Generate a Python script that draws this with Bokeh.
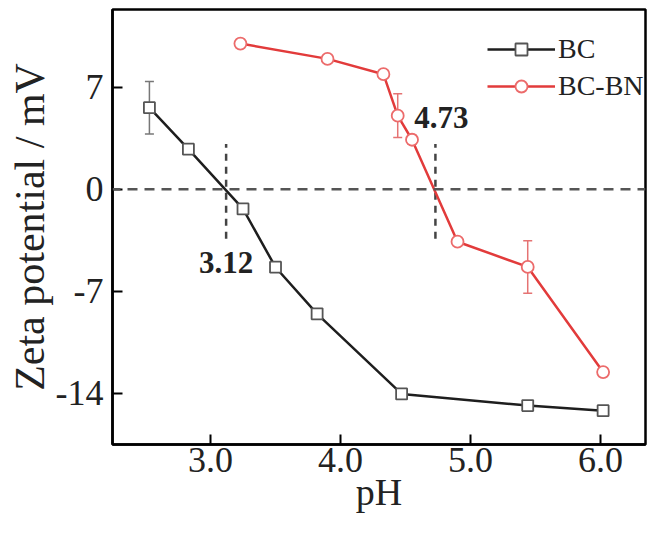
from bokeh.plotting import figure
from bokeh.models import (ColumnDataSource, Range1d, FixedTicker, Span, Whisker,
                          TeeHead, Label, Legend, LegendItem)
from bokeh.embed import file_html
from bokeh.resources import INLINE

# ---- data ----
bc_ph = [2.53, 2.83, 3.25, 3.50, 3.82, 4.47, 5.44, 6.02]
bc_zeta = [5.6, 2.75, -1.35, -5.35, -8.55, -14.05, -14.85, -15.2]
bc_err = [1.8, 0.3, 0.0, 0.3, 0.3, 0.0, 0.0, 0.3]

bn_ph = [3.23, 3.90, 4.33, 4.44, 4.55, 4.90, 5.44, 6.02]
bn_zeta = [10.0, 8.95, 7.9, 5.05, 3.4, -3.6, -5.33, -12.55]
bn_err = [0.3, 0.0, 0.0, 1.5, 0.3, 0.0, 1.8, 0.3]

iep_ph = [3.12, 4.73]
iep_labels = ["3.12", "4.73"]

x_ticks = [3.0, 4.0, 5.0, 6.0]
x_tick_labels = ["3.0", "4.0", "5.0", "6.0"]
y_ticks = [-14, -7, 0, 7]
y_tick_labels = ["-14", "-7", "0", "7"]

FONT = "Liberation Serif"
BC_LINE = "#1e1e1e"
BC_MARK = "#555555"
BN_LINE = "#e23b3b"
BN_MARK = "#ec6b6b"

p = figure(width=647, height=517, output_backend="svg", toolbar_location=None,
           x_range=Range1d(2.246, 6.346), y_range=Range1d(-17.52, 12.34),
           min_border_left=112, min_border_right=2, min_border_top=9,
           min_border_bottom=73)
p.background_fill_color = "white"
p.border_fill_color = "white"
p.xgrid.visible = False
p.ygrid.visible = False
p.outline_line_color = "black"
p.outline_line_width = 2.5

for ax in (p.xaxis[0], p.yaxis[0]):
    ax.axis_line_width = 2.5
    ax.axis_line_color = "black"
    ax.major_tick_in = 10
    ax.major_tick_out = 0
    ax.major_tick_line_width = 2
    ax.major_tick_line_color = "black"
    ax.minor_tick_line_color = None
    ax.major_label_text_font = FONT
    ax.major_label_text_color = "#222222"
    ax.axis_label_text_font = FONT
    ax.axis_label_text_font_style = "normal"
    ax.axis_label_text_color = "#222222"

p.xaxis.ticker = FixedTicker(ticks=x_ticks)
p.xaxis.major_label_overrides = {t: s for t, s in zip(x_ticks, x_tick_labels)}
p.yaxis.ticker = FixedTicker(ticks=y_ticks)
p.yaxis.major_label_overrides = {t: s for t, s in zip(y_ticks, y_tick_labels)}
p.xaxis.major_label_text_font_size = "36px"
p.yaxis.major_label_text_font_size = "36px"
p.xaxis.major_label_standoff = 3
p.yaxis.major_label_standoff = 9
p.xaxis.axis_label = "pH"
p.yaxis.axis_label = "Zeta potential / mV"
p.xaxis.axis_label_text_font_size = "38px"
p.yaxis.axis_label_text_font_size = "42px"
p.xaxis.axis_label_standoff = -4
p.yaxis.axis_label_standoff = 0

# zero line
p.add_layout(Span(location=0, dimension="width", line_color="#555555",
                  line_width=2.5, line_dash="10 7", line_dash_offset=2))

# isoelectric point markers
for xv, txt, dx, dy in zip(iep_ph, iep_labels, [0, 6], [-73, 72]):
    p.segment(x0=[xv], y0=[-3.4], x1=[xv], y1=[3.1], line_color="#444444",
              line_width=2.5, line_dash="7 6")
    p.add_layout(Label(x=xv, y=0, x_offset=dx, y_offset=dy, text=txt,
                       text_font=FONT, text_font_style="bold",
                       text_font_size="31px", text_color="#222222",
                       text_align="center", text_baseline="middle"))

bc_src = ColumnDataSource(dict(x=bc_ph, y=bc_zeta,
                               lo=[a - b for a, b in zip(bc_zeta, bc_err)],
                               hi=[a + b for a, b in zip(bc_zeta, bc_err)]))
bn_src = ColumnDataSource(dict(x=bn_ph, y=bn_zeta,
                               lo=[a - b for a, b in zip(bn_zeta, bn_err)],
                               hi=[a + b for a, b in zip(bn_zeta, bn_err)]))

for src, col in ((bc_src, "#777777"), (bn_src, "#e57373")):
    w = Whisker(source=src, base="x", lower="lo", upper="hi", dimension="height",
                line_color=col, line_width=1.5, level="underlay",
                upper_head=TeeHead(size=9, line_color=col, line_width=1.5),
                lower_head=TeeHead(size=9, line_color=col, line_width=1.5))
    p.add_layout(w)

bc_line = p.line("x", "y", source=bc_src, line_color=BC_LINE, line_width=2.5)
bc_pts = p.scatter("x", "y", source=bc_src, marker="square", size=11,
                   fill_color="white", line_color=BC_MARK, line_width=1.8)
bn_line = p.line("x", "y", source=bn_src, line_color=BN_LINE, line_width=2.5)
bn_pts = p.scatter("x", "y", source=bn_src, marker="circle", size=12,
                   fill_color="white", line_color=BN_MARK, line_width=1.8)

legend = Legend(items=[LegendItem(label="BC", renderers=[bc_line, bc_pts]),
                       LegendItem(label="BC-BN", renderers=[bn_line, bn_pts])],
                location=(375, 342), padding=0, margin=0, spacing=5,
                glyph_width=68, glyph_height=30, label_height=30,
                label_standoff=3, label_text_font=FONT,
                label_text_font_size="28px", label_text_color="#222222",
                background_fill_alpha=0, border_line_alpha=0)
p.add_layout(legend, "center")

open("out.html", "w").write(file_html(p, INLINE))
